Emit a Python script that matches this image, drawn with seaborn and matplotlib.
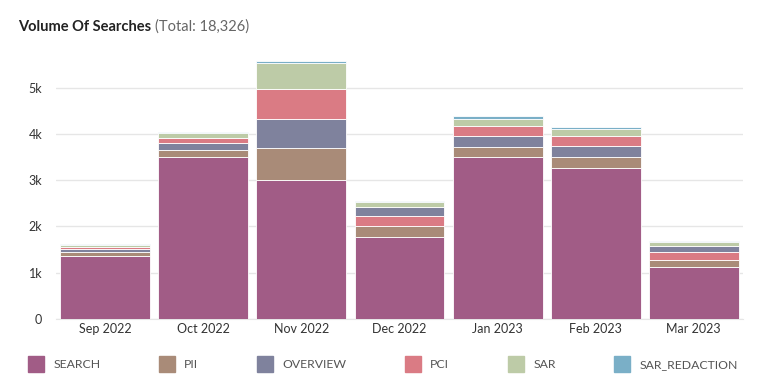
import pandas as pd
import seaborn as sns
import matplotlib.pyplot as plt
from matplotlib.lines import Line2D

months = ['Sep 2022', 'Oct 2022', 'Nov 2022', 'Dec 2022', 'Jan 2023', 'Feb 2023', 'Mar 2023']
series = ['SEARCH', 'PII', 'OVERVIEW', 'PCI', 'SAR', 'SAR_REDACTION']

search = [1370, 3500, 3000, 1770, 3500, 3260, 1125]
pii = [80, 145, 690, 245, 225, 230, 150]
overview = [70, 150, 635, 185, 225, 240, 145]
pci = [45, 125, 650, 210, 230, 230, 165]
sar = [30, 100, 565, 115, 150, 150, 75]
sar_redaction = [20, 30, 30, 20, 65, 40, 20]

# stacking order inside each bar (bottom to top)
default_order = ['SEARCH', 'PII', 'OVERVIEW', 'PCI', 'SAR', 'SAR_REDACTION']
swapped_order = ['SEARCH', 'PII', 'PCI', 'OVERVIEW', 'SAR', 'SAR_REDACTION']
stack_order = {m: default_order for m in months}
stack_order['Dec 2022'] = swapped_order
stack_order['Mar 2023'] = swapped_order

colors = {
    'SEARCH': '#a15c86',
    'PII': '#a98b78',
    'OVERVIEW': '#7f829d',
    'PCI': '#da7b84',
    'SAR': '#bdcba7',
    'SAR_REDACTION': '#7aafc7',
}

values = dict(zip(series, [search, pii, overview, pci, sar, sar_redaction]))
rows = []
for i, m in enumerate(months):
    bottom = 0
    for s in stack_order[m]:
        v = values[s][i]
        rows.append({'month': m, 'series': s, 'value': v, 'bottom': bottom})
        bottom += v
df = pd.DataFrame(rows)

sns.set_style('white')
plt.rcParams['font.family'] = ['Lato', 'DejaVu Sans']

fig = plt.figure(figsize=(7.58, 3.89), dpi=100)
ax = fig.add_axes([0.074, 0.18, 0.906, 0.69])

for s in series:
    d = df[df['series'] == s].set_index('month').loc[months].reset_index()
    sns.barplot(data=d, x='month', y='value', order=months, color=colors[s],
                bottom=d['bottom'].values, width=0.916, edgecolor='white',
                linewidth=0.6, saturation=1, ax=ax, zorder=3)

ax.set_ylim(0, 5800)
ax.set_xlim(-0.5, 6.5)
ax.set_yticks([0, 1000, 2000, 3000, 4000, 5000])
ax.set_yticklabels(['0', '1k', '2k', '3k', '4k', '5k'])
ax.yaxis.grid(True, color='#e6e6e6', linewidth=1, zorder=0)
ax.set_axisbelow(True)
for sp in ['top', 'right', 'left']:
    ax.spines[sp].set_visible(False)
ax.spines['bottom'].set_color('#e6e6e6')
ax.tick_params(axis='both', length=0, labelsize=9, colors='#333333')
ax.tick_params(axis='x', pad=3)
ax.tick_params(axis='y', pad=10)
ax.set_xlabel('')
ax.set_ylabel('')

handles = [Line2D([0], [0], marker='s', linestyle='', markersize=11,
                  markerfacecolor=colors[s], markeredgecolor=colors[s]) for s in series]
fig.legend(handles, series, loc='lower left', bbox_to_anchor=(0.025, 0.035, 0.955, 0.1),
           ncol=6, mode='expand', frameon=False, fontsize=8.8, labelcolor='#555555',
           handletextpad=0.4, borderaxespad=0)

t1 = fig.text(18 / 758, 1 - 27 / 389, 'Volume Of Searches', fontsize=10.5,
              color='#222222', fontweight='bold', va='center')
fig.canvas.draw()
bb = t1.get_window_extent()
fig.text((bb.x1 + 4) / 758, 1 - 27 / 389, '(Total: 18,326)', fontsize=10.5,
         color='#666666', va='center')

fig.savefig('out.png', dpi=100)
